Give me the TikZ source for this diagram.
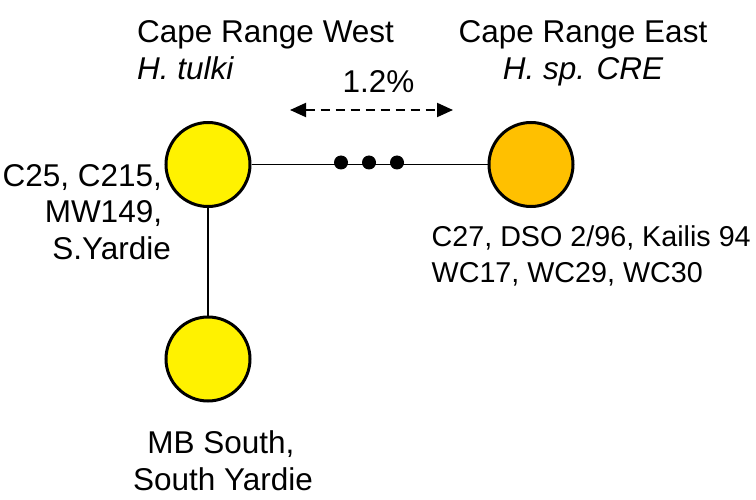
\documentclass[tikz,border=0pt]{standalone}
\usepackage{fontspec}
\setmainfont{Liberation Sans}
\usetikzlibrary{arrows.meta}
\begin{document}
\begin{tikzpicture}[x=1pt,y=-1pt,
  hap/.style={circle,draw=black,line width=3pt,minimum size=84pt,inner sep=0pt},
  dotnode/.style={circle,fill=black,minimum size=14pt,inner sep=0pt},
  lbl/.style={inner sep=0pt,font=\fontsize{31.5}{36.5}\selectfont},
  slbl/.style={inner sep=0pt,font=\fontsize{28.7}{36}\selectfont},
  link/.style={line width=1.6pt}]
\useasboundingbox (0,0) rectangle (756,500);
% haplotype circles
\node[hap,fill=yellow] (w) at (208,164.5) {};
\node[hap,fill={rgb,255:red,255;green,192;blue,0}] (e) at (531,164.5) {};
\node[hap,fill=yellow] (s) at (208,359) {};
% connectors
\draw[link] (w) -- (e);
\draw[link] (w) -- (s);
\node[dotnode] (d1) at (341,162.5) {};
\node[dotnode] (d2) at (369,162.5) {};
\node[dotnode] (d3) at (397,162.5) {};
% distance arrow
\coordinate (aL) at (290,110);
\coordinate (aR) at (453,110);
\draw[line width=2pt,dash pattern=on 9pt off 6pt,
  {Triangle[length=16pt,width=14pt]}-{Triangle[length=16pt,width=14pt]}] (aL) -- (aR);
\node[lbl,anchor=base] (pct) at (378.5,93) {1.2\%};
% titles
\node[lbl,anchor=base west] (tw1) at (137,43) {Cape Range West};
\node[lbl,anchor=base west] (tw2) at (137,80) {\itshape H. tulki};
\node[lbl,anchor=base] (te1) at (583,43) {Cape Range East};
\node[lbl,anchor=base] (te2) at (583,80) {\itshape H. sp. CRE};
% west members
\node[lbl,anchor=base east] (l1) at (171,187) {C25, C215,\kern0.278em};
\node[lbl,anchor=base east] (l2) at (171,223) {MW149,\kern0.278em};
\node[lbl,anchor=base east] (l3) at (171,259) {S.Yardie};
% east members
\node[slbl,anchor=base west] (r1) at (431.5,247) {C27, DSO 2/96, Kailis 94};
\node[slbl,anchor=base west] (r2) at (431.5,283) {WC17, WC29, WC30};
% south members
\node[lbl,anchor=base] (b1) at (221,453) {MB South,};
\node[lbl,anchor=base] (b2) at (223,490) {South Yardie};
\end{tikzpicture}
\end{document}
